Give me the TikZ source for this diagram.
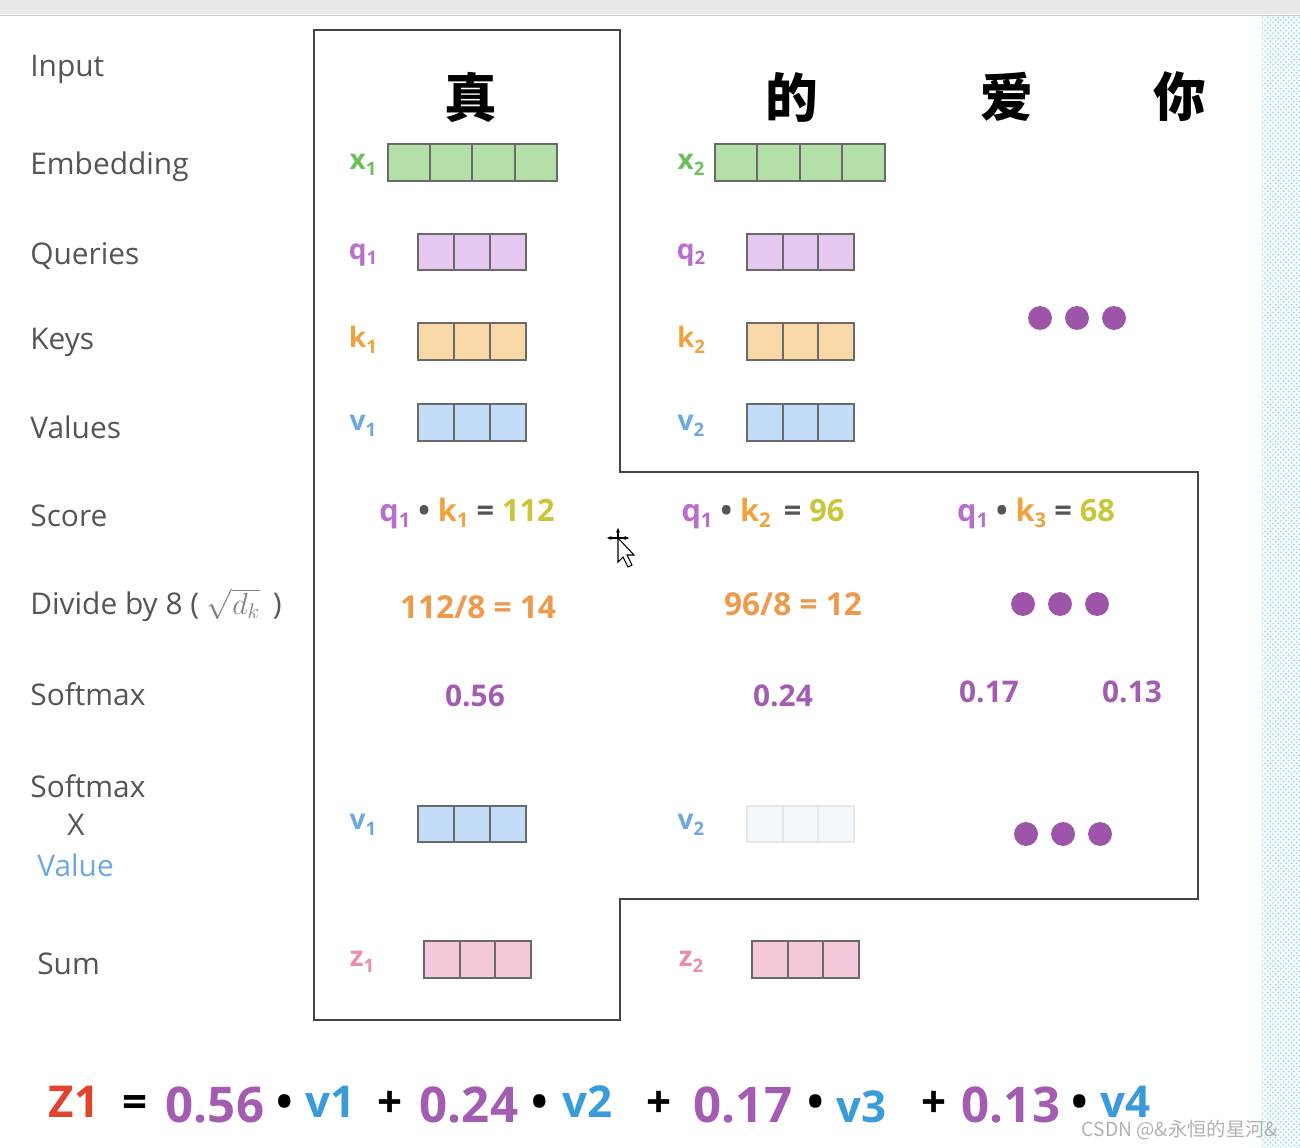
\documentclass[tikz,border=0pt]{standalone}
\usepackage{amsmath}
\usepackage{fontspec}
\setmainfont{Open Sans}
\newfontfamily\cjk{Noto Sans CJK SC}
\usetikzlibrary{patterns,arrows.meta}

\definecolor{labgray}{HTML}{555555}
\definecolor{xgreen}{HTML}{6DBE5B}
\definecolor{xfill}{HTML}{B5DFA9}
\definecolor{qpurple}{HTML}{B76ECF}
\definecolor{qfill}{HTML}{E6C8F0}
\definecolor{korange}{HTML}{F0A23C}
\definecolor{kfill}{HTML}{F9D8A8}
\definecolor{vblue}{HTML}{6FA8E0}
\definecolor{vfill}{HTML}{C3DDF8}
\definecolor{vfaint}{HTML}{F3F8FD}
\definecolor{zpink}{HTML}{E88DAE}
\definecolor{zfill}{HTML}{F6C8DC}
\definecolor{numyellow}{HTML}{C9C63A}
\definecolor{divorange}{HTML}{EE9A4C}
\definecolor{smpurple}{HTML}{A25DB1}
\definecolor{dotpurple}{HTML}{9C55A8}
\definecolor{eqred}{HTML}{E0432E}
\definecolor{eqblue}{HTML}{3A9BDA}
\definecolor{boxgray}{HTML}{6A6A6A}
\definecolor{framegray}{HTML}{444444}

\newcommand{\sbs}[1]{\raisebox{-0.35ex}{\scalebox{0.66}{#1}}}

\tikzset{
  rowlabel/.style={anchor=west, inner xsep=0pt, text=labgray, font=\fontsize{17}{20}\selectfont},
  veclabel/.style={font=\bfseries\fontsize{16}{19}\selectfont},
  word/.style={font=\cjk\bfseries\fontsize{30}{34}\selectfont},
  cell/.style={draw=boxgray, line width=0.8pt},
  pdot/.style={circle, fill=dotpurple, inner sep=0pt, minimum size=13.6pt},
  score/.style={font=\bfseries\fontsize{17.5}{20}\selectfont},
  divtext/.style={text=divorange, font=\bfseries\fontsize{18}{21}\selectfont},
  smtext/.style={text=smpurple, font=\bfseries\fontsize{17}{20}\selectfont},
  eqbig/.style={anchor=base, font=\bfseries\fontsize{28}{32}\selectfont},
  eqsmall/.style={anchor=base, font=\bfseries\fontsize{25}{30}\selectfont}
}

\begin{document}
\begin{tikzpicture}[x=0.02cm, y=-0.02cm]
    \useasboundingbox (0,0) rectangle (1300,1148);
    \fill[white] (0,0) rectangle (1300,1148);
    \fill[gray!17] (0,0) rectangle (1300,14);
    \draw[gray!40] (0,15) -- (1300,15);
    \fill[cyan!5] (1262,16) rectangle (1300,1148);
    \fill[pattern=crosshatch dots, pattern color=teal!35] (1262,16) rectangle (1300,1148);

    \node[rowlabel] (lin) at (30,69) {Input};
    \node[rowlabel] (lemb) at (30,167) {Embedding};
    \node[rowlabel] (lq) at (30,256) {Queries};
    \node[rowlabel] (lk) at (30,342) {Keys};
    \node[rowlabel] (lv) at (30,427) {Values};
    \node[rowlabel] (lsc) at (30,516) {Score};
    \node[rowlabel] (ldiv) at (30,605) {Divide by 8 ( {\color{gray}$\sqrt{d_k}$} \,)};
    \node[rowlabel] (lsm) at (30,694) {Softmax};
    \node[rowlabel] (lsm2) at (30,786) {Softmax};
    \node[rowlabel, anchor=center] (lx) at (76,825) {X};
    \node[rowlabel, text=vblue] (lval) at (37,865) {Value};
    \node[rowlabel] (lsum) at (37,964) {Sum};

    \draw[framegray, line width=1.1pt] (314,30) -- (620,30) -- (620,472) -- (1198,472) -- (1198,899) -- (620,899) -- (620,1020) -- (314,1020) -- cycle;

    \node[word] (w1) at (471,97) {真};
    \node[word] (w2) at (792,97) {的};
    \node[word] (w3) at (1007,97) {爱};
    \node[word] (w4) at (1180,97) {你};

    \node[veclabel, text=xgreen] (x1) at (363,165) {x\sbs{1}};
    \draw[cell, fill=xfill] (388,144) rectangle (557,181);
    \draw[cell] (430,144) -- (430,181) (472,144) -- (472,181) (515,144) -- (515,181);
    \node[veclabel, text=xgreen] (x2) at (691,165) {x\sbs{2}};
    \draw[cell, fill=xfill] (715,144) rectangle (885,181);
    \draw[cell] (757,144) -- (757,181) (800,144) -- (800,181) (842,144) -- (842,181);

    \node[veclabel, text=qpurple] (q1) at (363,255) {q\sbs{1}};
    \draw[cell, fill=qfill] (418,234) rectangle (526,270);
    \draw[cell] (454,234) -- (454,270) (490,234) -- (490,270);
    \node[veclabel, text=qpurple] (q2) at (691,255) {q\sbs{2}};
    \draw[cell, fill=qfill] (747,234) rectangle (854,270);
    \draw[cell] (783,234) -- (783,270) (818,234) -- (818,270);

    \node[veclabel, text=korange] (k1) at (363,340) {k\sbs{1}};
    \draw[cell, fill=kfill] (418,323) rectangle (526,360);
    \draw[cell] (454,323) -- (454,360) (490,323) -- (490,360);
    \node[veclabel, text=korange] (k2) at (691,340) {k\sbs{2}};
    \draw[cell, fill=kfill] (747,323) rectangle (854,360);
    \draw[cell] (783,323) -- (783,360) (818,323) -- (818,360);

    \node[veclabel, text=vblue] (v1) at (363,426) {v\sbs{1}};
    \draw[cell, fill=vfill] (418,404) rectangle (526,441);
    \draw[cell] (454,404) -- (454,441) (490,404) -- (490,441);
    \node[veclabel, text=vblue] (v2) at (691,426) {v\sbs{2}};
    \draw[cell, fill=vfill] (747,404) rectangle (854,441);
    \draw[cell] (783,404) -- (783,441) (818,404) -- (818,441);

    \node[pdot] (dta) at (1040,318) {};
    \node[pdot] (dtb) at (1077,318) {};
    \node[pdot] (dtc) at (1114,318) {};

    \node[score] (sc1) at (467,514) {{\color{qpurple}q\sbs{1}} {\color{labgray}\textbullet} {\color{korange}k\sbs{1}} {\color{labgray}=} {\color{numyellow}112}};
    \node[score] (sc2) at (763,514) {{\color{qpurple}q\sbs{1}} {\color{labgray}\textbullet} {\color{korange}k\sbs{2}} \,{\color{labgray}=} {\color{numyellow}96}};
    \node[score] (sc3) at (1036,514) {{\color{qpurple}q\sbs{1}} {\color{labgray}\textbullet} {\color{korange}k\sbs{3}} {\color{labgray}=} {\color{numyellow}68}};

    \draw[black, fill=white, line width=0.6pt] (618,538) -- (618,562) -- (623,557) -- (628,567) -- (632,565) -- (627,555) -- (634,555) -- cycle;
    \draw[line width=0.8pt, {Latex[length=3pt]}-{Latex[length=3pt]}] (606,538) -- (630,538);
    \draw[line width=0.8pt, -{Latex[length=3pt]}] (618,538) -- (618,527);

    \node[divtext] (dv1) at (478,607) {112/8 = 14};
    \node[divtext] (dv2) at (793,604) {96/8 = 12};
    \node[pdot] (dma) at (1023,604) {};
    \node[pdot] (dmb) at (1060,604) {};
    \node[pdot] (dmc) at (1097,604) {};

    \node[smtext] (sm1) at (475,696) {0.56};
    \node[smtext] (sm2) at (783,696) {0.24};
    \node[smtext] (sm3) at (989,692) {0.17};
    \node[smtext] (sm4) at (1132,692) {0.13};

    \node[veclabel, text=vblue] (sv1) at (363,825) {v\sbs{1}};
    \draw[cell, fill=vfill] (418,806) rectangle (526,842);
    \draw[cell] (454,806) -- (454,842) (490,806) -- (490,842);
    \node[veclabel, text=vblue] (sv2) at (691,825) {v\sbs{2}};
    \draw[cell, draw=gray!18, fill=vfaint] (747,806) rectangle (854,842);
    \draw[cell, draw=gray!18] (783,806) -- (783,842) (818,806) -- (818,842);
    \node[pdot] (dba) at (1026,834) {};
    \node[pdot] (dbb) at (1063,834) {};
    \node[pdot] (dbc) at (1100,834) {};

    \node[veclabel, text=zpink] (z1) at (362,962) {z\sbs{1}};
    \draw[cell, fill=zfill] (424,941) rectangle (531,978);
    \draw[cell] (460,941) -- (460,978) (495,941) -- (495,978);
    \node[veclabel, text=zpink] (z2) at (691,962) {z\sbs{2}};
    \draw[cell, fill=zfill] (752,941) rectangle (859,978);
    \draw[cell] (788,941) -- (788,978) (823,941) -- (823,978);

    \node[eqsmall, text=eqred] (eqz) at (74,1117) {Z1};
    \node[eqsmall] (eqis) at (135,1117) {=};
    \node[eqbig, text=smpurple] (eqa) at (215,1122) {0.56};
    \node[eqsmall] (eqd1) at (285,1117) {\textbullet};
    \node[eqsmall, text=eqblue] (eqv1) at (331,1117) {v1};
    \node[eqsmall] (eqp1) at (390,1117) {+};
    \node[eqbig, text=smpurple] (eqb) at (469,1122) {0.24};
    \node[eqsmall] (eqd2) at (540,1117) {\textbullet};
    \node[eqsmall, text=eqblue] (eqv2) at (588,1117) {v2};
    \node[eqsmall] (eqp2) at (659,1117) {+};
    \node[eqbig, text=smpurple] (eqc) at (743,1122) {0.17};
    \node[eqsmall] (eqd3) at (816,1117) {\textbullet};
    \node[eqsmall, text=eqblue] (eqv3) at (862,1122) {v3};
    \node[eqsmall] (eqp3) at (934,1117) {+};
    \node[eqbig, text=smpurple] (eqe) at (1011,1122) {0.13};
    \node[eqsmall] (eqd4) at (1080,1117) {\textbullet};
    \node[eqsmall, text=eqblue] (eqv4) at (1126,1117) {v4};

    \node[anchor=east, text=gray!60, font=\cjk\fontsize{11}{13}\selectfont] (mark) at (1284,1130) {CSDN @\&永恒的星河\&};
\end{tikzpicture}
\end{document}
